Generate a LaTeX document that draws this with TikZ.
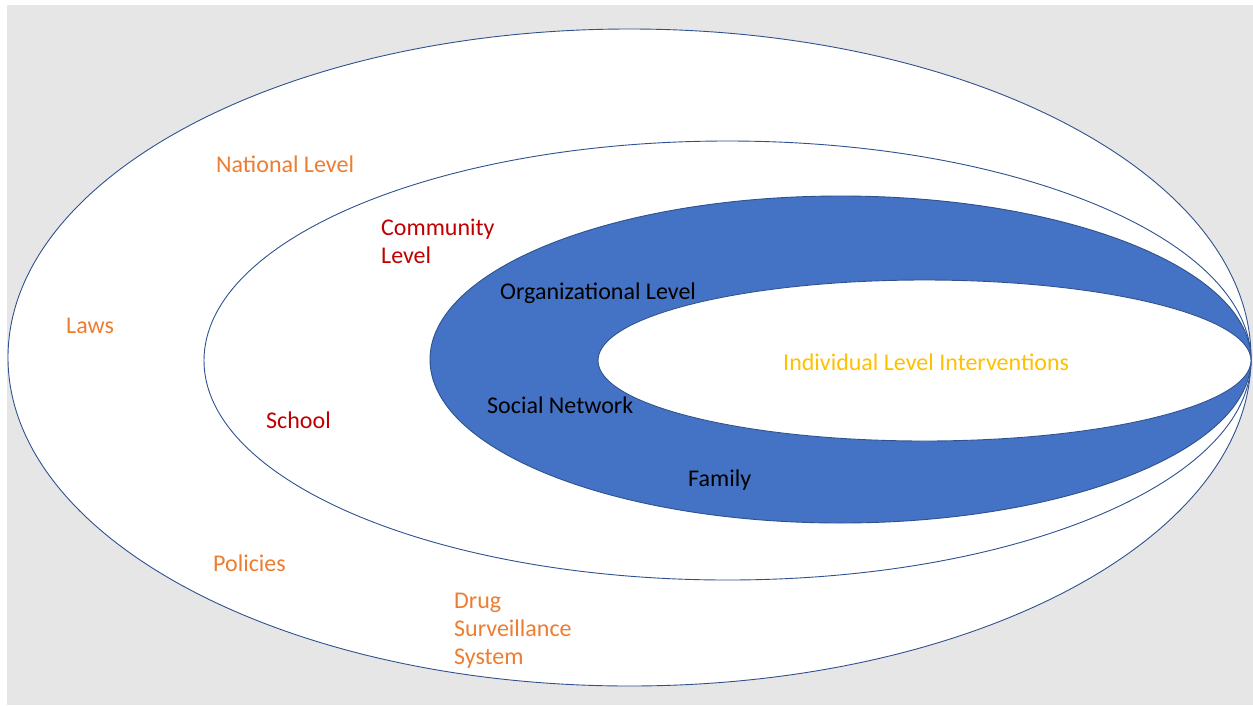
\documentclass[tikz,border=0pt]{standalone}
\usepackage{fontspec}
\setmainfont{Carlito}
\usetikzlibrary{shapes.geometric}
\definecolor{bggray}{HTML}{E7E6E6}
\definecolor{rimblue}{HTML}{2F528F}
\definecolor{fillblue}{HTML}{4472C4}
\definecolor{txtorange}{HTML}{ED7D31}
\definecolor{txtred}{HTML}{C00000}
\definecolor{txtgold}{HTML}{FFC000}
\tikzset{
  ring/.style={ellipse, draw=rimblue, line width=0.9pt, inner sep=0pt},
  lbl/.style={anchor=west, inner sep=0pt, align=left,
              font=\fontsize{24}{28}\selectfont},
}
\begin{document}
\begin{tikzpicture}[x=1pt, y=-1pt]
  \useasboundingbox (0,0) rectangle (1253,705);
  \fill[white] (0,0) rectangle (1253,705);
  \fill[bggray] (7,5) rectangle (1253,705);

  % nested levels, all touching at the right-hand tip
  \node[ring, fill=white, minimum width=1243pt, minimum height=657pt] (national) at (629.5,357.5) {};
  \node[ring, fill=white, minimum width=1047pt, minimum height=439pt] (community) at (727.5,360.5) {};
  \node[ring, fill=fillblue, minimum width=821pt, minimum height=327pt] (organizational) at (840.5,359.5) {};
  \node[ring, fill=white, minimum width=653pt, minimum height=161pt] (individual) at (924.5,360.5) {};

  % labels
  \node[lbl, text=txtorange] (tnational) at (216,164) {National Level};
  \node[lbl, text=txtorange] (tlaws) at (66,326) {Laws};
  \node[lbl, text=txtorange] (tpolicies) at (213,563) {Policies};
  \node[lbl, text=txtorange] (tdrug) at (454,631) {Drug\\Surveillance\\System};
  \node[lbl, text=txtred] (tcommunity) at (381,241) {Community\\Level};
  \node[lbl, text=txtred] (tschool) at (266,420) {School};
  \node[lbl, text=black] (torg) at (500,293) {Organizational Level};
  \node[lbl, text=black] (tsocial) at (487,405) {Social Network};
  \node[lbl, text=black] (tfamily) at (688,480) {Family};
  \node[lbl, text=txtgold] (tindiv) at (783,362) {Individual Level Interventions};
\end{tikzpicture}
\end{document}
